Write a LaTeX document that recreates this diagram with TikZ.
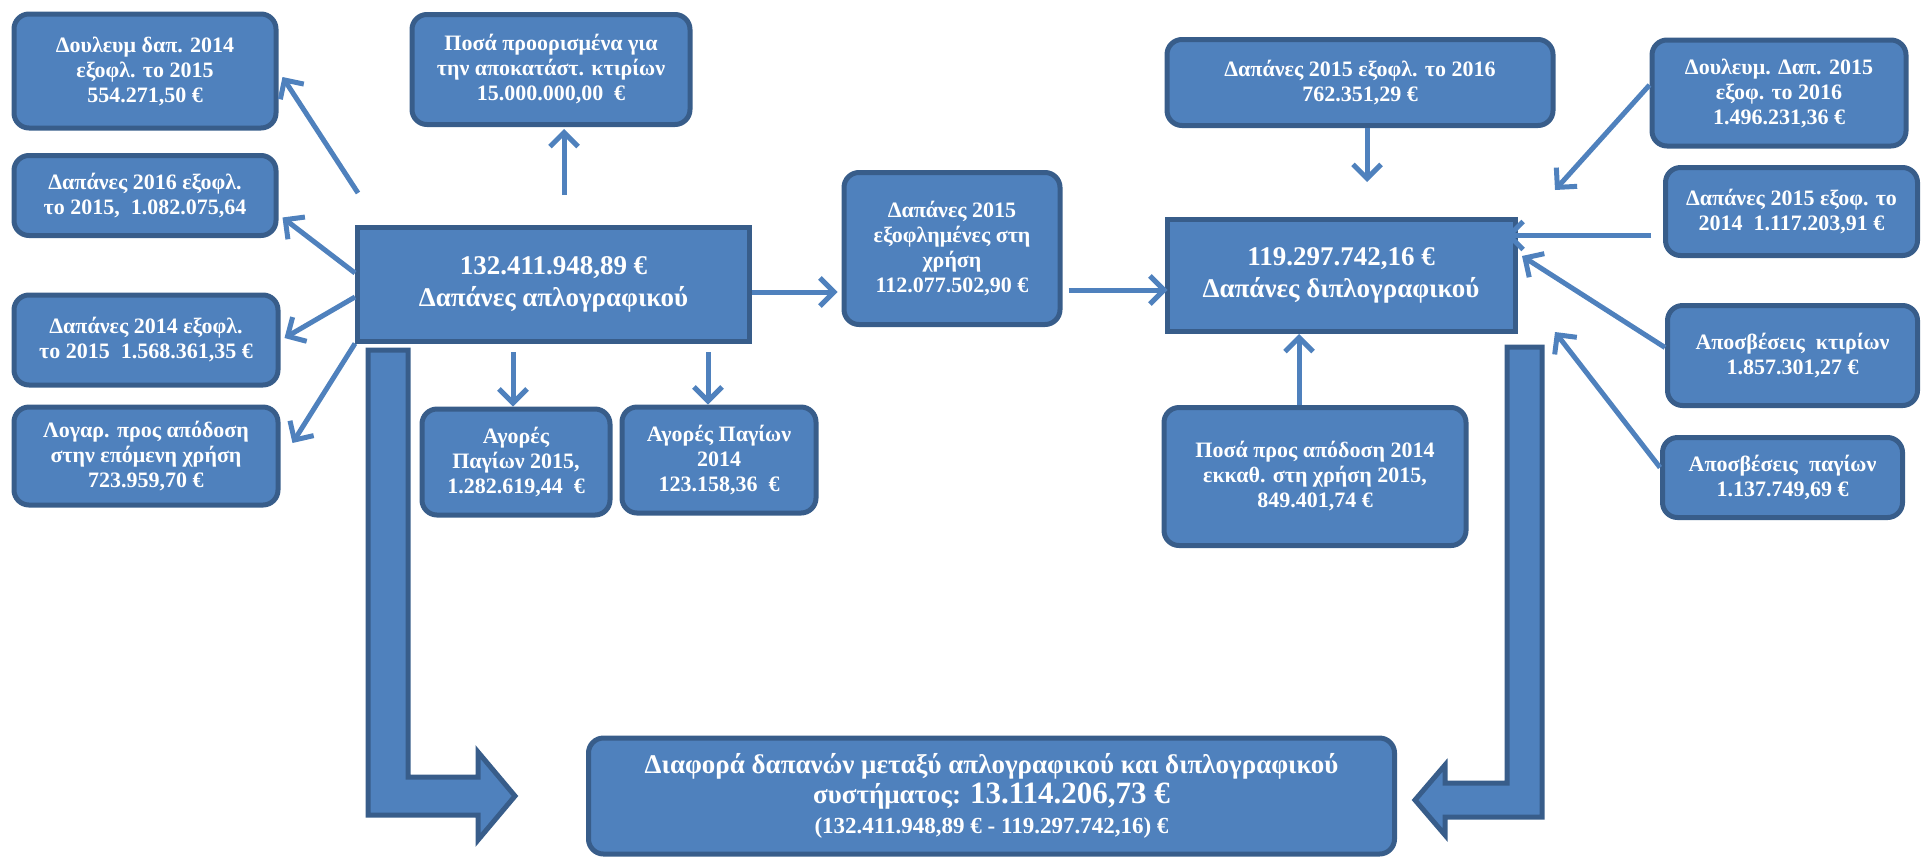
\documentclass[tikz,border=0pt]{standalone}
\usepackage{fontspec}
\setmainfont{Liberation Serif}
\usetikzlibrary{arrows.meta, positioning}
\definecolor{boxblue}{HTML}{4F81BD}
\definecolor{edgeblue}{HTML}{385D8A}

\begin{document}
\begin{tikzpicture}[
    x=0.5pt, y=-0.5pt,
    box/.style={
        rectangle, draw=edgeblue, fill=boxblue, line width=2.5pt,
        rounded corners=7.5pt, text=white, align=center, inner sep=2pt,
        font=\bfseries\fontsize{11}{12.5}\selectfont
    },
    mainbox/.style={box, sharp corners, font=\bfseries\fontsize{13.5}{16}\selectfont},
    arr/.style={-{Straight Barb[length=7pt,width=14pt]}, line width=2.5pt, draw=boxblue},
    bigarr/.style={fill=boxblue, draw=edgeblue, line width=2.5pt, line join=miter},
]
\useasboundingbox (0,0) rectangle (1921,858);

% left side
\node[box, minimum width=131pt, minimum height=57pt] (dl14) at (145,71)
    {Δουλευμ δαπ. 2014\\εξοφλ. το 2015\\554.271,50 €};
\node[box, minimum width=131pt, minimum height=40pt] (dp16) at (145,195.5)
    {Δαπάνες 2016 εξοφλ.\\το 2015,~ 1.082.075,64};
\node[box, minimum width=132pt, minimum height=45pt] (dp14) at (146,340)
    {Δαπάνες 2014 εξοφλ.\\το 2015~ 1.568.361,35 €};
\node[box, minimum width=132pt, minimum height=49pt] (logar) at (146,456)
    {Λογαρ. προς απόδοση\\στην επόμενη χρήση\\723.959,70 €};
\node[box, minimum width=139pt, minimum height=55pt] (posa) at (551,69.5)
    {Ποσά προορισμένα για\\την αποκατάστ. κτιρίων\\15.000.000,00~ €};
\node[mainbox, minimum width=196pt, minimum height=57pt] (apl) at (553.5,284)
    {132.411.948,89 €\\Δαπάνες απλογραφικού};
\node[box, minimum width=94pt, minimum height=53pt] (ag15) at (516,462)
    {Αγορές\\Παγίων 2015,\\1.282.619,44~ €};
\node[box, minimum width=97pt, minimum height=53pt] (ag14) at (719,460)
    {Αγορές Παγίων\\2014\\123.158,36~ €};
\node[box, minimum width=108pt, minimum height=76pt] (exof) at (952,248.5)
    {Δαπάνες 2015\\εξοφλημένες στη\\χρήση\\112.077.502,90 €};

% right side
\node[mainbox, minimum width=174pt, minimum height=56pt] (dipl) at (1341,275.5)
    {119.297.742,16 €\\Δαπάνες διπλογραφικού};
\node[box, minimum width=193pt, minimum height=43pt] (dp1516) at (1360,82.5)
    {Δαπάνες 2015 εξοφλ. το 2016\\762.351,29 €};
\node[box, minimum width=127pt, minimum height=53pt] (dl15) at (1779,93)
    {Δουλευμ. Δαπ. 2015\\εξοφ. το 2016\\1.496.231,36 €};
\node[box, minimum width=126pt, minimum height=44pt] (dp1514) at (1791.5,211.5)
    {Δαπάνες 2015 εξοφ. το\\2014~ 1.117.203,91 €};
\node[box, minimum width=125pt, minimum height=50pt] (apkt) at (1792.5,355.5)
    {Αποσβέσεις~ κτιρίων\\1.857.301,27 €};
\node[box, minimum width=120pt, minimum height=40pt] (appag) at (1782.5,477.5)
    {Αποσβέσεις~ παγίων\\1.137.749,69 €};
\node[box, minimum width=151pt, minimum height=69pt] (posa14) at (1315,476.5)
    {Ποσά προς απόδοση 2014\\εκκαθ. στη χρήση 2015,\\849.401,74 €};

% result
\node[box, minimum width=403pt, minimum height=58pt, font=\bfseries\fontsize{13.5}{15}\selectfont]
    (diff) at (991.5,796)
    {Διαφορά δαπανών μεταξύ απλογραφικού και διπλογραφικού\\
     συστήματος: {\fontsize{15.5}{15}\selectfont 13.114.206,73 €}\\
     {\fontsize{11.5}{15}\selectfont(132.411.948,89 € - 119.297.742,16) €}};

% free ends
\coordinate (s1) at (358,193);
\coordinate (s5) at (564,195);
\coordinate (s6) at (513,352);
\coordinate (s7) at (708,352);
\coordinate (e11) at (1555,190);
\coordinate (e13) at (1522,256);
\coordinate (e14) at (1555,332);

\draw[arr] (s1) -- ([xshift=2pt,yshift=-3pt]dl14.east);
\draw[arr] ([yshift=5.5pt]apl.west) -- ([xshift=2pt,yshift=-11pt]dp16.east);
\draw[arr] ([yshift=-6.5pt]apl.west) -- ([xshift=2pt,yshift=1pt]dp14.east);
\draw[arr] (apl.south west) -- ([xshift=6pt,yshift=6.5pt]logar.east);
\draw[arr] (s5) -- ([xshift=6.5pt,yshift=-1pt]posa.south);
\draw[arr] (s6) -- ([xshift=-1.5pt]ag15.north);
\draw[arr] (s7) -- ([xshift=-5.5pt]ag14.north);
\draw[arr, shorten >=2pt] ([yshift=-4pt]apl.east) -- ([yshift=-4pt]apl.east -| exof.west);
\draw[arr, shorten >=1.5pt] ([xshift=3pt,yshift=-20.75pt]exof.east)
    -- ([xshift=3pt,yshift=-20.75pt]exof.east -| dipl.west);
\draw[arr] ([xshift=3.5pt]dp1516.south) -- ++(0,54);
\draw[arr] ([yshift=4pt]dl15.west) -- (e11);
\draw[arr] ([xshift=-6pt,yshift=-12pt]dp1514.west)
    -- ([xshift=-6pt,yshift=-12pt]dp1514.west -| dipl.east);
\draw[arr] ([yshift=4pt]apkt.west) -- (e13);
\draw[arr] ([yshift=5pt]appag.west) -- (e14);
\draw[arr] ([xshift=-8pt]posa14.north) -- ([xshift=-8pt]posa14.north |- dipl.south);

% block arrows to the result
\draw[bigarr] (368,350) -- (408,350) -- (408,777) -- (478,777) -- (478,752)
    -- (515,796) -- (478,840) -- (478,815) -- (368,815) -- cycle;
\draw[bigarr] (1507,347) -- (1542,347) -- (1542,817) -- (1445,817) -- (1445,835)
    -- (1415,800) -- (1445,765) -- (1445,783) -- (1507,783) -- cycle;
\end{tikzpicture}
\end{document}
